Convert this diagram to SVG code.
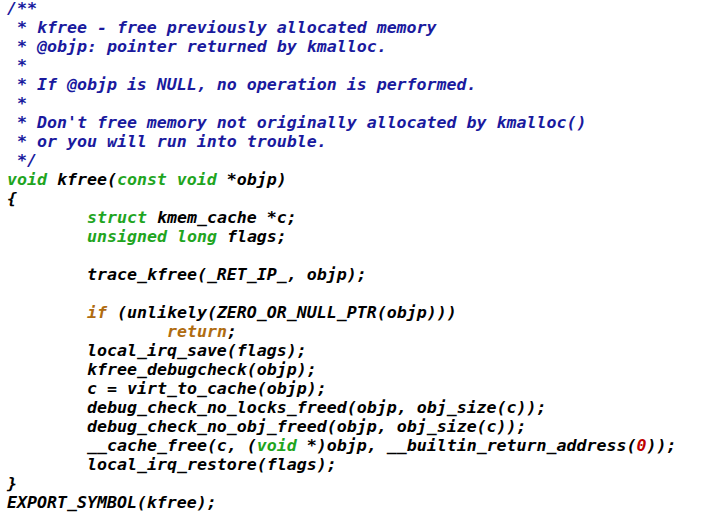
<svg xmlns="http://www.w3.org/2000/svg" width="701" height="525" viewBox="0 0 701 525">
<style>
text{font-family:"DejaVu Sans Mono","Liberation Mono",monospace;font-size:16.6px;font-weight:bold;font-style:italic;fill:#000;white-space:pre}
.c{fill:#1a1a9e}
.k{fill:#1fa51f}
.s{fill:#b06c10}
.n{fill:#c00000}
</style>
<rect width="701" height="525" fill="#fff"/>
<g id="code">
<text x="7" y="14" class="c">/**</text>
<text x="7" y="33" class="c"> * kfree - free previously allocated memory</text>
<text x="7" y="52" class="c"> * @objp: pointer returned by kmalloc.</text>
<text x="7" y="71" class="c"> *</text>
<text x="7" y="90" class="c"> * If @objp is NULL, no operation is performed.</text>
<text x="7" y="109" class="c"> *</text>
<text x="7" y="128" class="c"> * Don't free memory not originally allocated by kmalloc()</text>
<text x="7" y="147" class="c"> * or you will run into trouble.</text>
<text x="7" y="166" class="c"> */</text>
<text x="7" y="185"><tspan class="k">void</tspan> kfree(<tspan class="k">const</tspan> <tspan class="k">void</tspan> *objp)</text>
<text x="7" y="204">{</text>
<text x="87" y="223"><tspan class="k">struct</tspan> kmem_cache *c;</text>
<text x="87" y="242"><tspan class="k">unsigned</tspan> <tspan class="k">long</tspan> flags;</text>
<text x="87" y="280">trace_kfree(_RET_IP_, objp);</text>
<text x="87" y="318"><tspan class="s">if</tspan> (unlikely(ZERO_OR_NULL_PTR(objp)))</text>
<text x="167" y="337"><tspan class="s">return</tspan>;</text>
<text x="87" y="356">local_irq_save(flags);</text>
<text x="87" y="375">kfree_debugcheck(objp);</text>
<text x="87" y="394">c = virt_to_cache(objp);</text>
<text x="87" y="413">debug_check_no_locks_freed(objp, obj_size(c));</text>
<text x="87" y="432">debug_check_no_obj_freed(objp, obj_size(c));</text>
<text x="87" y="451">__cache_free(c, (<tspan class="k">void</tspan> *)objp, __builtin_return_address(<tspan class="n">0</tspan>));</text>
<text x="87" y="470">local_irq_restore(flags);</text>
<text x="7" y="489">}</text>
<text x="7" y="508">EXPORT_SYMBOL(kfree);</text>
</g>
</svg>
